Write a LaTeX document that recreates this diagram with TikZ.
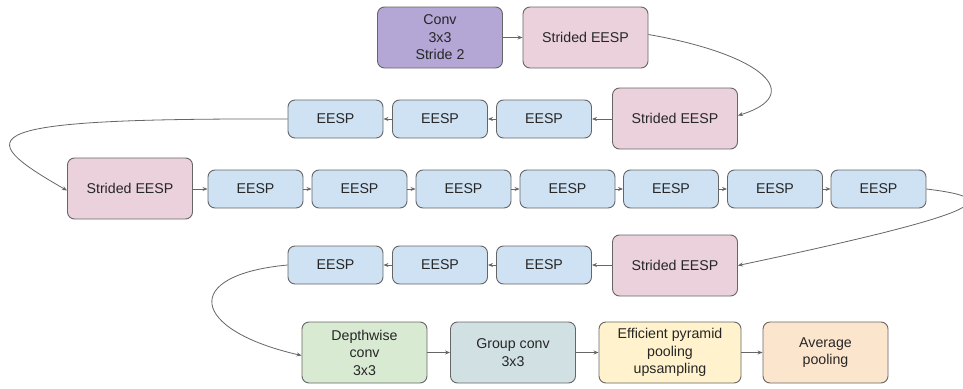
\documentclass[tikz,border=0pt]{standalone}
\usepackage{fontspec}
\setmainfont{Liberation Sans}
\usetikzlibrary{arrows.meta}
\definecolor{cblue}{HTML}{CFE2F3}
\definecolor{cpink}{HTML}{EAD1DC}
\definecolor{cpurple}{HTML}{B4A7D6}
\definecolor{cgreen}{HTML}{D9EAD3}
\definecolor{cteal}{HTML}{D0E0E3}
\definecolor{cyellow}{HTML}{FFF2CC}
\definecolor{corange}{HTML}{FCE5CD}
\definecolor{cborder}{HTML}{666666}
\definecolor{cline}{HTML}{666666}
\begin{document}
\begin{tikzpicture}[x=1pt,y=-1pt,
  box/.style={draw=cborder,line width=0.9pt,rounded corners=7pt,inner sep=0pt,align=center,
    font=\fontsize{14.2}{17.5}\selectfont,text=black!85},
  small/.style={box,fill=cblue,minimum width=95pt,minimum height=38pt},
  big/.style={box,minimum width=125pt,minimum height=61pt},
  conn/.style={draw=cline,line width=0.8pt,-{Stealth[length=5pt,width=4pt]}}]
\clip (0,0) rectangle (963,388);
\fill[white] (0,0) rectangle (963,388);
% row 1
\node[big,fill=cpurple] (conv) at (440,37.5) {Conv\\3x3\\Stride 2};
\node[big,fill=cpink] (s1) at (585.5,37.5) {Strided EESP};
% row 2
\node[big,fill=cpink] (s2) at (675,118.5) {Strided EESP};
\node[small] (r2c) at (544,119) {EESP};
\node[small] (r2b) at (440,119) {EESP};
\node[small] (r2a) at (335.5,119) {EESP};
% row 3
\node[big,fill=cpink] (s3) at (130,188.5) {Strided EESP};
\node[small] (r3a) at (255.5,189) {EESP};
\node[small] (r3b) at (359.5,189) {EESP};
\node[small] (r3c) at (463.5,189) {EESP};
\node[small] (r3d) at (567.5,189) {EESP};
\node[small] (r3e) at (671,189) {EESP};
\node[small] (r3f) at (775,189) {EESP};
\node[small] (r3g) at (878.5,189) {EESP};
% row 4
\node[big,fill=cpink] (s4) at (675,265.5) {Strided EESP};
\node[small] (r4c) at (544,265) {EESP};
\node[small] (r4b) at (440,265) {EESP};
\node[small] (r4a) at (335.5,265) {EESP};
% row 5
\node[big,fill=cgreen] (dw) at (364.5,352.5) {Depthwise\\conv\\3x3};
\node[big,fill=cteal] (gc) at (513,352.5) {Group conv\\3x3};
\node[big,fill=cyellow,minimum width=142pt] (ep) at (670,352.5) {Efficient pyramid\\pooling\\upsampling};
\node[big,fill=corange] (ap) at (825.5,352.5) {Average\\pooling};
% connectors
\draw[conn] (conv) -- (s1);
\draw[conn] ([yshift=3pt]s1.east) .. controls (765,55) and (805,95) .. ([yshift=3pt]s2.east);
\draw[conn] (s2.west |- r2c.east) -- (r2c);
\draw[conn] (r2c) -- (r2b);
\draw[conn] (r2b) -- (r2a);
\draw[conn] (r2a.west) .. controls (-30,118) and (-30,135) .. ([yshift=-2pt]s3.west);
\draw[conn] (s3.east |- r3a.west) -- (r3a);
\draw[conn] (r3a) -- (r3b);
\draw[conn] (r3b) -- (r3c);
\draw[conn] (r3c) -- (r3d);
\draw[conn] (r3d) -- (r3e);
\draw[conn] (r3e) -- (r3f);
\draw[conn] (r3f) -- (r3g);
\draw[conn] (r3g.east) .. controls (1000,198) and (1000,210) .. (s4.east);
\draw[conn] (s4.west |- r4c.east) -- (r4c);
\draw[conn] (r4c) -- (r4b);
\draw[conn] (r4b) -- (r4a);
\draw[conn] (r4a.west) .. controls (180,275) and (190,330) .. ([yshift=-3pt]dw.west);
\draw[conn] (dw) -- (gc);
\draw[conn] (gc) -- (ep);
\draw[conn] (ep) -- (ap);
\end{tikzpicture}
\end{document}
